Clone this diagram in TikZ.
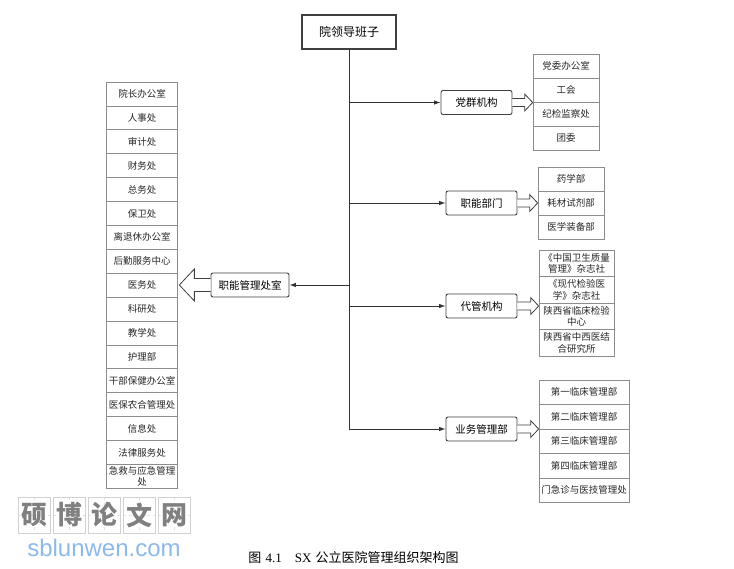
\documentclass[tikz,border=0pt]{standalone}
\usepackage{fontspec}
\usetikzlibrary{arrows.meta, positioning, calc, backgrounds}
\newfontfamily\cjk{Noto Sans CJK SC}
\newfontfamily\capfont{Liberation Serif}
\newfontfamily\webfont{Liberation Sans}
\definecolor{webblue}{RGB}{140,185,235}

% hollow arrow: tail, tip, body half width, head length (signed), head half width
\newcommand{\fat}[5]{%
  \draw[hollow] ($(#1)+(0,-#3)$) -- ($(#2)+(#4,-#3)$) -- ($(#2)+(#4,-#5)$) -- (#2)
    -- ($(#2)+(#4,#5)$) -- ($(#2)+(#4,#3)$) -- ($(#1)+(0,#3)$);}

\begin{document}
\begin{tikzpicture}[x=1pt, y=-1pt]
	\tikzset{>={Latex[length=6.5pt, width=4.5pt]},
		line/.style={draw=black!80, line width=0.9pt},
		lead/.style={draw=black!75, line width=1.1pt, fill=white, minimum width=94pt, minimum height=34pt, font=\cjk\fontsize{12}{14}\selectfont},
		unit/.style={draw=black!75, line width=0.9pt, rounded corners=2pt, fill=white, minimum width=71pt, minimum height=24pt, inner sep=0pt, font=\cjk\fontsize{10.5}{12}\selectfont},
		cell/.style={draw=black!45, line width=0.7pt, minimum height=24pt, inner sep=0pt, align=center, text=black!85, font=\cjk\fontsize{9.5}{11.5}\selectfont},
		hollow/.style={draw=black!75, line width=0.8pt, fill=white, line join=miter},
		wm/.style={draw=black!18, line width=0.6pt, minimum width=32pt, minimum height=36pt, inner sep=0pt, text=black!50, font=\cjk\bfseries\fontsize{26}{26}\selectfont}
	}
	\useasboundingbox (0,0) rectangle (734,568);

	\node[lead] (lead) at (349,32) {院领导班子};
	\node[unit] (dq) at (476.5,102.5) {党群机构};
	\node[unit] (zn) at (481.5,203) {职能部门};
	\node[unit] (dg) at (481.5,306) {代管机构};
	\node[unit] (yw) at (481.5,429) {业务管理部};
	\node[unit, minimum width=78pt] (znc) at (250,285) {职能管理处室};

	% columns
	\foreach \t [count=\i] in {院长办公室, 人事处, 审计处, 财务处, 总务处, 保卫处, 离退休办公室, 后勤服务中心, 医务处, 科研处, 教学处, 护理部, 干部保健办公室, 医保农合管理处, 信息处, 法律服务处, {急救与应急管理\\处}}
		\node[cell, minimum width=71pt, minimum height=23.9pt] (znc\i) at (142, {82+23.9*(\i-0.5)}) {\t};
	\foreach \t [count=\i] in {党委办公室, 工会, 纪检监察处, 团委}
		\node[cell, minimum width=66pt] (dq\i) at (566, {66+24*(\i-1)}) {\t};
	\foreach \t [count=\i] in {药学部, 耗材试剂部, 医学装备部}
		\node[cell, minimum width=66pt] (zn\i) at (571, {179+24*(\i-1)}) {\t};
	\foreach \t [count=\i] in {{《中国卫生质量\\管理》杂志社}, {《现代检验医\\学》杂志社}, {陕西省临床检验\\中心}, {陕西省中西医结\\合研究所}}
		\node[cell, minimum width=75pt, minimum height=26.5pt] (dg\i) at (576.5, {263.25+26.5*(\i-1)}) {\t};
	\foreach \t [count=\i] in {第一临床管理部, 第二临床管理部, 第三临床管理部, 第四临床管理部, 门急诊与医技管理处}
		\node[cell, minimum width=90pt, minimum height=24.5pt] (yw\i) at (584, {392.25+24.5*(\i-1)}) {\t};

	% connectors
	\draw[line, ->] (lead.south) -- (lead.south |- yw.west) -- (yw.west);
	\draw[line, ->] (lead.south |- dq.west) -- (dq.west);
	\draw[line, ->] (lead.south |- zn.west) -- (zn.west);
	\draw[line, ->] (lead.south |- dg.west) -- (dg.west);
	\draw[line, ->] (lead.south |- znc.east) -- (znc.east);

	\coordinate (dqtip) at (dq1.west |- dq.east);
	\coordinate (zntip) at (zn1.west |- zn.east);
	\coordinate (dgtip) at (dg1.west |- dg.east);
	\coordinate (ywtip) at (yw1.west |- yw.east);
	\coordinate (znctip) at ($(znc1.east |- znc.west)+(1.5,0)$);
	\fat{dq.east}{dqtip}{4}{-8}{8.5}
	\fat{zn.east}{zntip}{4}{-8}{8.5}
	\fat{dg.east}{dgtip}{4}{-8}{8.5}
	\fat{yw.east}{ywtip}{4}{-8}{8.5}
	\fat{znc.west}{znctip}{6.5}{15}{16}

	% watermark and caption
	\foreach \c [count=\i] in {硕,博,论,文,网}
		\node[wm] (wm\i) at ({34+35*(\i-1)}, 515) {\c};
	\begin{scope}[on background layer]
		\foreach \i in {1,...,5}
			\draw[black!12, dashed, line width=0.5pt] (wm\i.north) -- (wm\i.south) (wm\i.west) -- (wm\i.east);
	\end{scope}
	\node[text=webblue, font=\webfont\fontsize{24}{24}\selectfont] (web) at (104,548) {sblunwen.com};
	\node[font=\fontsize{13}{15}\selectfont] (cap) at (353.5,558) {{\cjk 图} {\capfont 4.1}\quad{\capfont SX} {\cjk 公立医院管理组织架构图}};
\end{tikzpicture}
\end{document}
